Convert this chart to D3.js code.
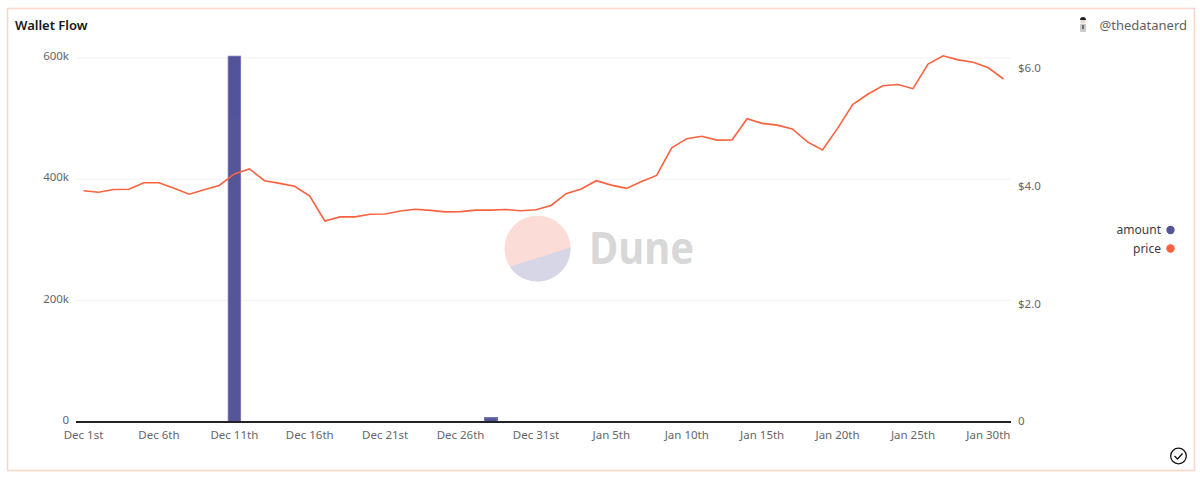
<!DOCTYPE html>
<html>
<head>
<meta charset="utf-8">
<title>Wallet Flow</title>
<script src="https://cdn.jsdelivr.net/npm/d3@7"></script>
<style>
  html, body { margin: 0; padding: 0; background: #fff; }
  svg { display: block; font-family: "Noto Sans", "Open Sans", sans-serif; }
  .tick text { fill: #66666b; font-size: 11.5px; font-family: "Noto Sans", "Open Sans", sans-serif; }
</style>
</head>
<body>
<svg id="chart" width="1200" height="480"></svg>
<script>
// Daily categories along the shared x axis
const days = [
  "Dec 1st","Dec 2nd","Dec 3rd","Dec 4th","Dec 5th","Dec 6th","Dec 7th","Dec 8th","Dec 9th","Dec 10th",
  "Dec 11th","Dec 12th","Dec 13th","Dec 14th","Dec 15th","Dec 16th","Dec 17th","Dec 18th","Dec 19th","Dec 20th",
  "Dec 21st","Dec 22nd","Dec 23rd","Dec 24th","Dec 25th","Dec 26th","Dec 27th","Dec 28th","Dec 29th","Dec 30th",
  "Dec 31st","Jan 1st","Jan 2nd","Jan 3rd","Jan 4th","Jan 5th","Jan 6th","Jan 7th","Jan 8th","Jan 9th",
  "Jan 10th","Jan 11th","Jan 12th","Jan 13th","Jan 14th","Jan 15th","Jan 16th","Jan 17th","Jan 18th","Jan 19th",
  "Jan 20th","Jan 21st","Jan 22nd","Jan 23rd","Jan 24th","Jan 25th","Jan 26th","Jan 27th","Jan 28th","Jan 29th",
  "Jan 30th","Jan 31st"
];
const xTickLabels = ["Dec 1st","Dec 6th","Dec 11th","Dec 16th","Dec 21st","Dec 26th","Dec 31st",
  "Jan 5th","Jan 10th","Jan 15th","Jan 20th","Jan 25th","Jan 30th"];

// Daily token price in dollars
const price = [
  3.925,3.90,3.945,3.95,4.06,4.06,3.965,3.865,3.94,4.015,
  4.21,4.295,4.095,4.05,4.00,3.835,3.41,3.48,3.48,3.525,
  3.53,3.58,3.61,3.59,3.565,3.57,3.595,3.595,3.605,3.585,
  3.60,3.675,3.875,3.955,4.095,4.02,3.965,4.08,4.185,4.655,
  4.81,4.85,4.785,4.79,5.15,5.07,5.04,4.975,4.755,4.62,
  4.985,5.39,5.565,5.71,5.73,5.66,6.08,6.22,6.15,6.11,
  6.015,5.825
];

// Individual wallet transfers; same-day transfers stack on each other
const transferDays = ["Dec 11th","Dec 11th","Dec 28th"];
const transferAmounts = [500000,104000,7000];

const amountTicks = [0,200000,400000,600000];
const priceTicks = [0,2,4,6];

const plot = { left: 76, right: 1011, base: 421.5 };
const colors = { amount: "#55559a", amountEdge: "#8f8fc0", price: "#f9623e", grid: "#f1f1f3",
                 frame: "#fdd6cd", ink: "#17171a", muted: "#5f5f66" };

const svg = d3.select("#chart");

// Card outline
svg.append("rect").attr("x",7.5).attr("y",8.5).attr("width",1187).attr("height",462)
  .attr("fill","#fff").attr("stroke",colors.frame).attr("stroke-width",1.6);

const x = d3.scaleBand().domain(days).range([plot.left, plot.right]).paddingInner(0.1).paddingOuter(0.05);
const yAmount = d3.scaleLinear().domain([0,600000]).range([plot.base, 58]);
const yPrice = d3.scaleLinear().domain([0,6]).range([plot.base, 68.7]);

// Horizontal gridlines belong to the amount axis
svg.append("g").selectAll("line").data(amountTicks.filter(d => d > 0)).join("line")
  .attr("x1",plot.left).attr("x2",plot.right)
  .attr("y1",d => yAmount(d)).attr("y2",d => yAmount(d))
  .attr("stroke",colors.grid).attr("stroke-width",1);

// Dune watermark
const mark = svg.append("g").attr("transform","translate(537.5,248.5)");
const markRadius = 33;
mark.append("circle").attr("r",markRadius).attr("fill","#fcdcd6");
mark.append("path")
  .attr("d",`M${markRadius*Math.cos(-0.03)},${markRadius*Math.sin(-0.03)}
             A${markRadius},${markRadius} 0 0 1 ${markRadius*Math.cos(2.56)},${markRadius*Math.sin(2.56)}Z`)
  .attr("fill","#d6d6e6");
svg.append("text").attr("x",589).attr("y",264).text("Dune")
  .attr("font-size",45).attr("font-weight",700).attr("fill","#d8d8d8")
  .attr("textLength",105).attr("lengthAdjust","spacingAndGlyphs");

// Amount bars, stacked per day
const runningTotal = new Map();
const segments = transferDays.map((day,i) => {
  const y0 = runningTotal.get(day) || 0;
  const y1 = y0 + transferAmounts[i];
  runningTotal.set(day,y1);
  return { day, y0, y1, i };
});
svg.append("g").attr("shape-rendering","crispEdges").selectAll("rect").data(segments).join("rect")
  .attr("x",d => x(d.day))
  .attr("width",x.bandwidth())
  .attr("y",d => yAmount(d.y1))
  .attr("height",d => yAmount(d.y0)-yAmount(d.y1))
  .attr("fill",d => d.i === 1 ? "#53539a" : colors.amount);

// Soft edge around each day's full column
svg.append("g").selectAll("rect").data(Array.from(runningTotal)).join("rect")
  .attr("x",d => x(d[0])+0.5)
  .attr("width",x.bandwidth()-1)
  .attr("y",d => yAmount(d[1])+0.5)
  .attr("height",d => plot.base-yAmount(d[1])-0.5)
  .attr("fill","none")
  .attr("stroke",colors.amountEdge).attr("stroke-width",1).attr("stroke-opacity",0.75);

// Price line
const line = d3.line().x((d,i) => x(days[i]) + x.bandwidth()/2).y(d => yPrice(d));
svg.append("path").datum(price).attr("d",line)
  .attr("fill","none").attr("stroke",colors.price).attr("stroke-width",1.6);

// Baseline
svg.append("line").attr("x1",plot.left).attr("x2",plot.right)
  .attr("y1",plot.base+0.5).attr("y2",plot.base+0.5)
  .attr("stroke","#222226").attr("stroke-width",2);

// Axes
const xAxis = d3.axisBottom(x).tickValues(xTickLabels).tickSize(0).tickPadding(9);
svg.append("g").attr("transform",`translate(0,${plot.base+0.5})`).call(xAxis)
  .call(g => g.select(".domain").remove());

const leftAxis = d3.axisLeft(yAmount).tickValues(amountTicks).tickSize(0).tickPadding(0)
  .tickFormat(d => d === 0 ? "0" : (d/1000)+"k");
svg.append("g").attr("transform","translate(69,-2)").call(leftAxis)
  .call(g => g.select(".domain").remove());

const rightAxis = d3.axisRight(yPrice).tickValues(priceTicks).tickSize(0).tickPadding(0)
  .tickFormat(d => d === 0 ? "0" : "$"+d3.format(".1f")(d));
svg.append("g").attr("transform","translate(1018,-0.5)").call(rightAxis)
  .call(g => g.select(".domain").remove());

// Title and author handle
svg.append("text").attr("x",15).attr("y",30).text("Wallet Flow")
  .attr("font-size",13).attr("font-weight",600).attr("fill",colors.ink);
svg.append("text").attr("x",1187).attr("y",30).attr("text-anchor","end").text("@thedatanerd")
  .attr("font-size",13).attr("fill",colors.muted);

// Author avatar
const avatar = svg.append("g").attr("transform","translate(1083,25)");
avatar.append("rect").attr("x",-3).attr("y",-1).attr("width",6).attr("height",8).attr("rx",1).attr("fill","#c9c9c9");
avatar.append("circle").attr("cy",-4).attr("r",2.6).attr("fill","#e8d9cf");
avatar.append("path").attr("d","M-3,-5 A3,3 0 0 1 3,-5 Z").attr("fill","#222");
avatar.append("rect").attr("x",-0.6).attr("y",0).attr("width",1.2).attr("height",4).attr("fill","#333");

// Legend
const legendItems = [["amount",colors.amount,230],["price",colors.price,248.5]];
const legend = svg.append("g").selectAll("g").data(legendItems).join("g")
  .attr("transform",d => `translate(0,${d[2]})`);
legend.append("text").attr("x",1161).attr("y",4).attr("text-anchor","end").text(d => d[0])
  .attr("font-size",12).attr("fill","#3c3c44");
legend.append("circle").attr("cx",1170.5).attr("r",4.2).attr("fill",d => d[1]);

// Status check badge
const badge = svg.append("g").attr("transform","translate(1178.5,456)");
badge.append("circle").attr("r",7.8).attr("fill","none").attr("stroke",colors.ink).attr("stroke-width",1.3);
badge.append("path").attr("d","M-4,0 L-1,3 L4,-2.5").attr("fill","none").attr("stroke",colors.ink).attr("stroke-width",1.4);
</script>
</body>
</html>
